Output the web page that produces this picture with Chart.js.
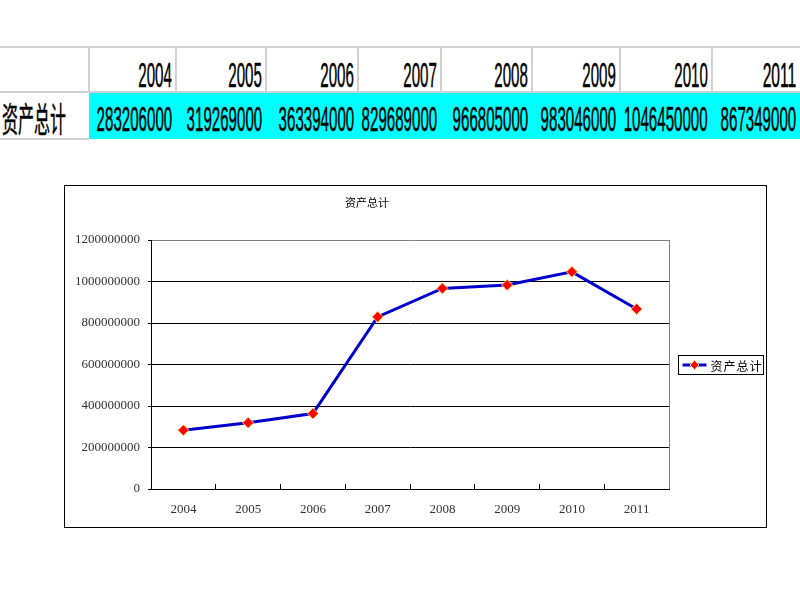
<!DOCTYPE html>
<html>
<head>
<meta charset="utf-8">
<script src="https://cdn.jsdelivr.net/npm/chart.js@4.4.1/dist/chart.umd.min.js"></script>
<style>
    body { margin: 0; background: #ffffff; width: 800px; height: 600px; position: relative; overflow: hidden; }
    .cell { position: absolute; box-sizing: border-box; white-space: nowrap; }
    .cell span { position: absolute; right: 4px; top: 0; transform-origin: right center; font-family: 'Liberation Sans Narrow', 'Liberation Sans', sans-serif; font-size: 35px; color: #000; -webkit-text-stroke: 0.5px #000; }
    .hline { position: absolute; height: 2px; background: #d0d0d0; }
    .vline { position: absolute; width: 2px; background: #d0d0d0; }
    #chartFrame { position: absolute; left: 64px; top: 185px; width: 703px; height: 343px; box-sizing: border-box; border: 1px solid #000; }
    #chartBox { position: absolute; left: 65px; top: 186px; width: 701px; height: 341px; }
</style>
</head>
<body>
<div id="sheet"></div>
<div id="chartFrame"></div>
<div id="chartBox"><canvas id="lineChart"></canvas></div>

<script>
// data
const rowLabel = '资产总计';
const years = ['2004', '2005', '2006', '2007', '2008', '2009', '2010', '2011'];
const totalAssets = [283206000, 319269000, 363394000, 829689000, 966805000, 983046000, 1046450000, 867349000];
const yMax = 1200000000;
const yStep = 200000000;

document.addEventListener("DOMContentLoaded", function() {

    // ==========================================
    // 1. TABEL DI ATAS (tahun + nilai)
    // ==========================================
    const sheet = document.getElementById('sheet');
    const colEdges = [0, 89, 176, 266, 358, 441, 532, 620, 712, 800];
    const digitWidth = 8.4;   // lebar satu digit di tabel (px)

    function addCell(x1, x2, top, h, text) {
        const d = document.createElement('div');
        d.className = 'cell';
        d.style.left = x1 + 'px';
        d.style.top = top + 'px';
        d.style.width = (x2 - x1) + 'px';
        d.style.height = h + 'px';
        const s = document.createElement('span');
        s.textContent = text;
        s.style.lineHeight = h + 'px';
        d.appendChild(s);
        sheet.appendChild(d);
        // skala horizontal supaya digit sempit seperti aslinya
        const w = s.getBoundingClientRect().width;
        s.style.transform = 'scaleX(' + (text.length * digitWidth / w) + ')';
    }

    // cyan background row
    const cyan = document.createElement('div');
    cyan.style.cssText = 'position:absolute;left:89px;top:93px;width:711px;height:46px;background:#00ffff;';
    sheet.appendChild(cyan);

    years.forEach(function(y, i) {
        addCell(colEdges[i + 1], colEdges[i + 2], 53, 44, y);
        addCell(colEdges[i + 1], colEdges[i + 2], 96, 46, String(totalAssets[i]));
    });

    // label cell
    const lab = document.createElement('div');
    lab.className = 'cell';
    lab.style.cssText += 'left:0;top:95px;width:89px;height:46px;';
    const ls = document.createElement('span');
    ls.textContent = rowLabel;
    ls.style.cssText = 'position:absolute;left:2px;right:auto;top:0;line-height:46px;font-family:"Noto Sans CJK SC",sans-serif;font-size:34px;transform-origin:left center;transform:scaleX(0.47);';
    lab.appendChild(ls);
    sheet.appendChild(lab);

    // grid lines of the sheet
    function line(cls, css) {
        const d = document.createElement('div');
        d.className = cls;
        d.style.cssText += css;
        sheet.appendChild(d);
    }
    line('hline', 'left:0;top:46px;width:800px;');
    line('hline', 'left:0;top:91px;width:800px;');
    line('hline', 'left:0;top:138px;width:89px;');
    for (let i = 1; i < colEdges.length - 1; i++) {
        line('vline', 'left:' + (colEdges[i] - 1) + 'px;top:47px;height:45px;');
    }

    // ==========================================
    // 2. LINE CHART
    // ==========================================
    const lineColor = '#0000cc';

    // garis abu-abu di kanan plot area
    const plotRightBorder = {
        id: 'plotRightBorder',
        beforeDatasetsDraw(chart) {
            const a = chart.chartArea;
            const ctx = chart.ctx;
            ctx.save();
            ctx.strokeStyle = '#808080';
            ctx.lineWidth = 1;
            ctx.beginPath();
            ctx.moveTo(Math.round(a.right) + 0.5, a.top);
            ctx.lineTo(Math.round(a.right) + 0.5, a.bottom);
            ctx.stroke();
            ctx.restore();
        }
    };

    // legenda dengan kotak, garis + diamond
    const boxedLegend = {
        id: 'boxedLegend',
        afterDraw(chart) {
            const a = chart.chartArea;
            const ctx = chart.ctx;
            const ds = chart.data.datasets[0];
            const x = Math.round(a.right) + 9.5;
            const cy = Math.round((a.top + a.bottom) / 2);
            const y = cy - 9.5;
            ctx.save();
            ctx.fillStyle = '#ffffff';
            ctx.fillRect(x, y, 85, 19);
            ctx.strokeStyle = '#000';
            ctx.lineWidth = 1;
            ctx.strokeRect(x, y, 85, 19);
            ctx.strokeStyle = lineColor;
            ctx.lineWidth = 3;
            ctx.beginPath();
            ctx.moveTo(x + 4, cy);
            ctx.lineTo(x + 28, cy);
            ctx.stroke();
            ctx.fillStyle = '#ff0000';
            ctx.strokeStyle = '#ffcc66';
            ctx.lineWidth = 1;
            ctx.beginPath();
            ctx.moveTo(x + 16, cy - 4.5);
            ctx.lineTo(x + 20.5, cy);
            ctx.lineTo(x + 16, cy + 4.5);
            ctx.lineTo(x + 11.5, cy);
            ctx.closePath();
            ctx.fill();
            ctx.stroke();
            ctx.fillStyle = '#000';
            ctx.font = "12px 'Noto Sans CJK SC'";
            ctx.textBaseline = 'middle';
            ctx.letterSpacing = '1px';
            ctx.fillText(ds.label, x + 32, cy + 1);
            ctx.restore();
        }
    };

    new Chart(document.getElementById('lineChart'), {
        type: 'line',
        data: {
            labels: years,
            datasets: [{
                label: rowLabel,
                data: totalAssets,
                borderColor: lineColor,
                borderWidth: 3,
                pointStyle: 'rectRot',
                pointRadius: 5.5,
                pointBackgroundColor: '#ff0000',
                pointBorderColor: '#ffcc66',
                pointBorderWidth: 1,
                tension: 0
            }]
        },
        options: {
            responsive: true,
            maintainAspectRatio: false,
            animation: false,
            layout: { padding: { left: 0, right: 97, top: 0, bottom: 0 } },
            plugins: {
                legend: { display: false },
                tooltip: { enabled: false },
                title: {
                    display: true,
                    text: rowLabel,
                    color: '#000',
                    font: { family: 'Noto Sans CJK SC', size: 11, weight: 'normal' },
                    padding: { top: 10, bottom: 30.8 }
                }
            },
            scales: {
                x: {
                    offset: true,
                    afterFit: function(scale) { scale.height = 38; },
                    grid: {
                        offset: true,
                        drawOnChartArea: false,
                        drawTicks: true,
                        tickLength: -5,
                        tickColor: '#000'
                    },
                    border: { display: true, color: '#000', width: 1 },
                    ticks: {
                        color: '#333',
                        padding: 18,
                        font: { family: 'Liberation Serif', size: 13 }
                    }
                },
                y: {
                    min: 0,
                    max: yMax,
                    afterFit: function(scale) { scale.width = 86; },
                    grid: {
                        color: function(ctx) { return ctx.tick && ctx.tick.value === yMax ? '#808080' : '#000'; },
                        tickColor: '#000',
                        tickLength: 3,
                        lineWidth: 1
                    },
                    border: { display: true, color: '#000', width: 1 },
                    ticks: {
                        stepSize: yStep,
                        color: '#333',
                        padding: 8,
                        font: { family: 'Liberation Serif', size: 13 },
                        callback: function(value) { return String(value); }
                    }
                }
            }
        },
        plugins: [plotRightBorder, boxedLegend]
    });

});
</script>
</body>
</html>
